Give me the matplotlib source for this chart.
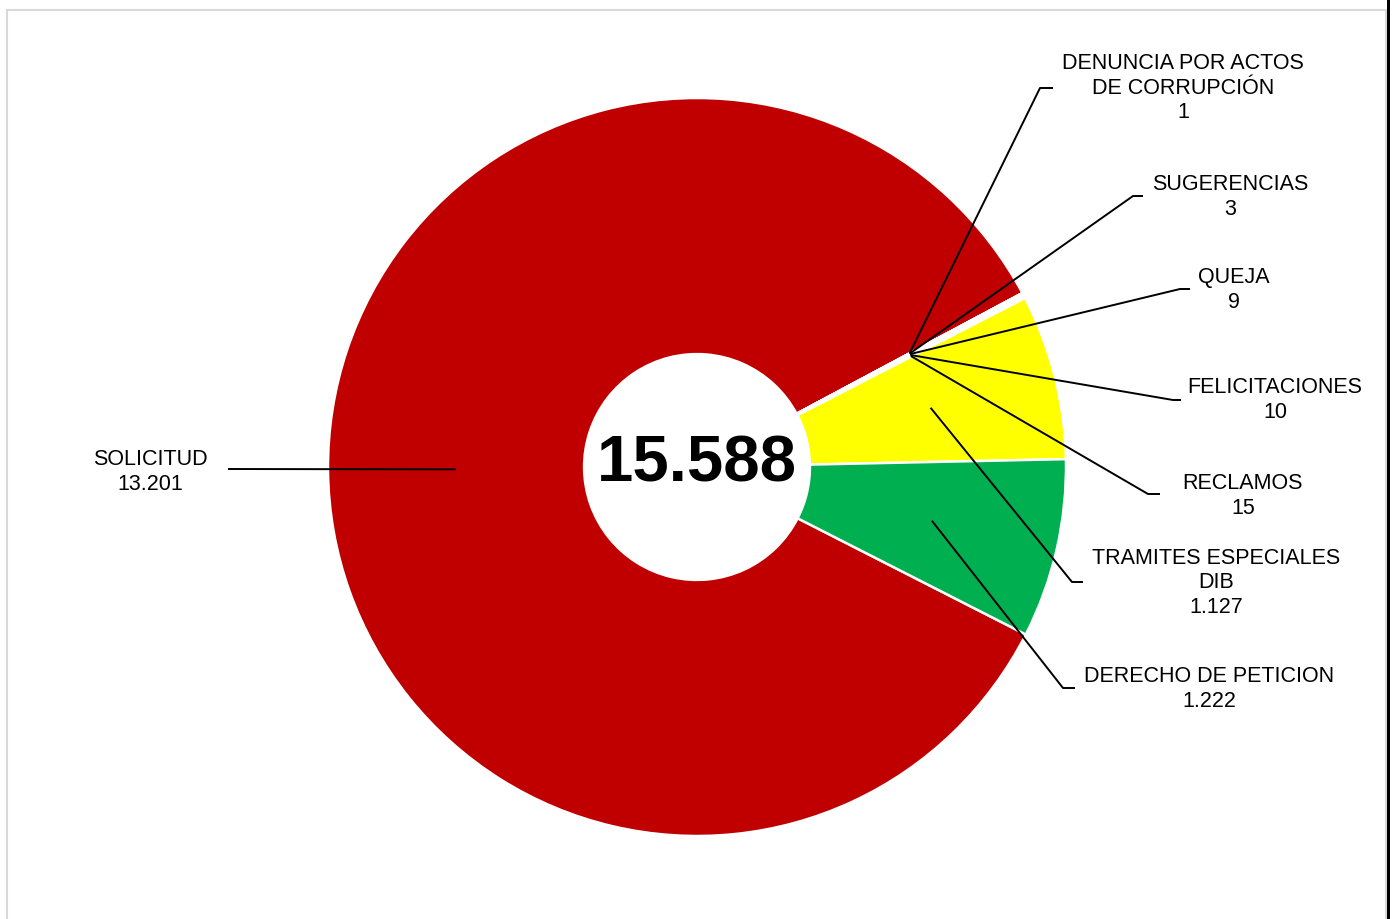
import numpy as np
import matplotlib.pyplot as plt
from matplotlib.patches import Rectangle

# ---- datos ----
categorias = ['SOLICITUD', 'DENUNCIA POR ACTOS\nDE CORRUPCIÓN', 'SUGERENCIAS', 'QUEJA',
              'FELICITACIONES', 'RECLAMOS', 'TRAMITES ESPECIALES\nDIB', 'DERECHO DE PETICION']
valores = [13201, 1, 3, 9, 10, 15, 1127, 1222]
colores = ['#C00000', '#FFFFFF', '#FFFFFF', '#FFFFFF', '#FFFFFF', '#FFFFFF', '#FFFF00', '#00B050']

W, H = 1393, 919
CX, CY, R = 697, 467, 369  # centro y radio en pixeles


def px(x, y):
    # pixel de la imagen -> coordenadas de datos (radio = 1)
    return (x - CX) / R, (CY - y) / R


# posiciones de etiquetas (pixeles): texto, codo, fin de la linea
pos_texto = [(150, 472), (1183, 88), (1230, 197), (1234, 290), (1275, 400),
             (1243, 496), (1216, 583), (1209, 689)]
pos_codo = [(228, 469), (1040, 88), (1133, 196), (1180, 289), (1173, 400),
            (1148, 494), (1072, 582), (1063, 688)]
pos_fin = [(228, 469), (1053, 88), (1143, 196), (1190, 289), (1181, 400),
           (1160, 494), (1083, 582), (1075, 688)]

plt.rcParams['font.family'] = ['Liberation Sans', 'DejaVu Sans']

fig = plt.figure(figsize=(W / 100, H / 100), dpi=100)
fig.patch.set_facecolor('white')
ax = fig.add_axes([0, 0, 1, 1])

ancho = 0.694
wedges, _ = ax.pie(valores, colors=colores, startangle=-27, counterclock=False,
                   radius=1.0, wedgeprops=dict(width=ancho, edgecolor='white', linewidth=1.8))

x0, y0 = px(0, H)
x1, y1 = px(W, 0)
ax.set_xlim(x0, x1)
ax.set_ylim(y0, y1)
ax.set_aspect('equal')
ax.axis('off')

# lineas guia y etiquetas
r_mid = 1.0 - ancho / 2
for w, cat, val, pt, pc, pf in zip(wedges, categorias, valores, pos_texto, pos_codo, pos_fin):
    ang = np.deg2rad((w.theta1 + w.theta2) / 2)
    sx, sy = r_mid * np.cos(ang), r_mid * np.sin(ang)
    cx, cy = px(*pc)
    fx, fy = px(*pf)
    ax.plot([sx, cx, fx], [sy, cy, fy], color='black', linewidth=1.4, solid_capstyle='butt')
    tx, ty = px(*pt)
    ax.text(tx, ty, f"{cat}\n{val:,}".replace(',', '.'), ha='center', va='center',
            fontsize=15.5, color='black', linespacing=1.24)

# total en el centro
total = sum(valores)
tx, ty = px(697, 482)
ax.text(tx, ty, f"{total:,}".replace(',', '.'), ha='center', va='baseline',
        fontsize=47, fontweight='bold', color='black')

# marco
fig.patches.append(Rectangle((7 / W, -0.1), (1386 - 7) / W, 1.1 - 10.5 / H,
                             transform=fig.transFigure, fill=False,
                             edgecolor='#D9D9D9', linewidth=1.5))
fig.patches.append(Rectangle((1387 / W, 0), 3 / W, 1, transform=fig.transFigure,
                             facecolor='black', edgecolor='none'))

fig.savefig('out.png', dpi=100, facecolor='white')
